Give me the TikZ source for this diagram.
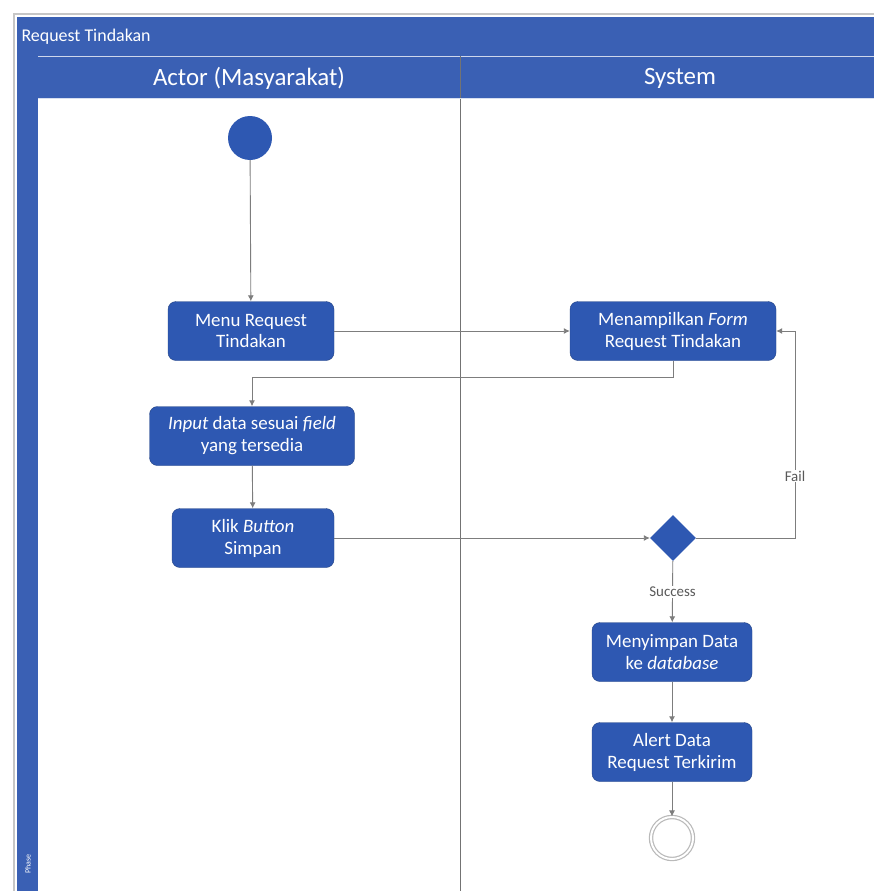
\documentclass[tikz,border=0pt]{standalone}
\usepackage{fontspec}
\setmainfont{Carlito}
\usetikzlibrary{shapes.geometric,arrows.meta}
\definecolor{laneblue}{RGB}{58,96,180}
\definecolor{actblue}{RGB}{46,88,178}
\definecolor{flowgray}{RGB}{125,125,125}

\begin{document}
\begin{tikzpicture}[x=1bp,y=-1bp,
  act/.style={draw=actblue!75!black,fill=actblue,rounded corners=8bp,text=white,align=center,
    minimum height=59bp,inner sep=2bp,font=\fontsize{19}{22}\selectfont},
  flow/.style={draw=flowgray,line width=0.9bp,-{Latex[length=6bp,width=6bp]}},
  guard/.style={font=\fontsize{15}{17}\selectfont,text=black!65,fill=white,inner sep=1bp},
  lanetext/.style={text=white,font=\fontsize{25}{29}\selectfont}]
\useasboundingbox (0,0) rectangle (874,891);
\fill[white] (0,0) rectangle (874,891);
\draw[gray!45,line width=2bp] (14,891) -- (14,14) -- (874,14);
\fill[laneblue] (17,17) rectangle (874,98);
\fill[laneblue] (17,17) rectangle (38,891);
\draw[white!75!laneblue,line width=0.8bp] (38,56) -- (874,56);
\draw[black!55,line width=0.8bp] (460,56) -- (460,891);
\draw[white!80!laneblue,line width=0.8bp] (38,98) -- (874,98);
\node[anchor=west,text=white,font=\fontsize{18}{21}\selectfont] (title) at (18,37) {Request Tindakan};
\node[lanetext] (laneactor) at (249,78) {Actor (Masyarakat)};
\node[lanetext] (lanesystem) at (680,78) {System};
\node[text=white,rotate=90,font=\fontsize{8}{9}\selectfont] (phase) at (28,864) {Phase};

\node[circle,fill=actblue,minimum size=44bp,inner sep=0] (start) at (250,138) {};
\node[act,minimum width=166bp] (menu) at (251,331) {Menu Request\\Tindakan};
\node[act,minimum width=206bp] (form) at (673,331) {Menampilkan \textit{Form}\\Request Tindakan};
\node[act,minimum width=205bp] (input) at (252,436) {\textit{Input} data sesuai \textit{field}\\yang tersedia};
\node[act,minimum width=162bp] (klik) at (253,538) {Klik \textit{Button}\\Simpan};
\node[diamond,aspect=1,fill=actblue,minimum size=46bp,inner sep=0] (dec) at (673,538) {};
\node[act,minimum width=160bp] (simpan) at (672,652) {Menyimpan Data\\ke \textit{database}};
\node[act,minimum width=160bp] (alert) at (672,752) {Alert Data\\Request Terkirim};
\node[circle,draw=gray!55,line width=1.2bp,double=white,double distance=2bp,fill=white,
  minimum size=42bp,inner sep=0] (end) at (672,838) {};
\coordinate (failturn) at (795,538);

\draw[flow] (start) -- (menu);
\draw[flow] (menu) -- (form);
\draw[flow] (form.south) -- ++(0,17) -| (input.north);
\draw[flow] (input) -- (klik);
\draw[flow] (klik) -- (dec);
\draw[flow] (dec.east) -- (failturn) |- node[guard,pos=0.15] {Fail} (form.east);
\draw[flow] (dec) -- node[guard] {Success} (simpan);
\draw[flow] (simpan) -- (alert);
\draw[flow] (alert) -- (end);
\end{tikzpicture}
\end{document}
